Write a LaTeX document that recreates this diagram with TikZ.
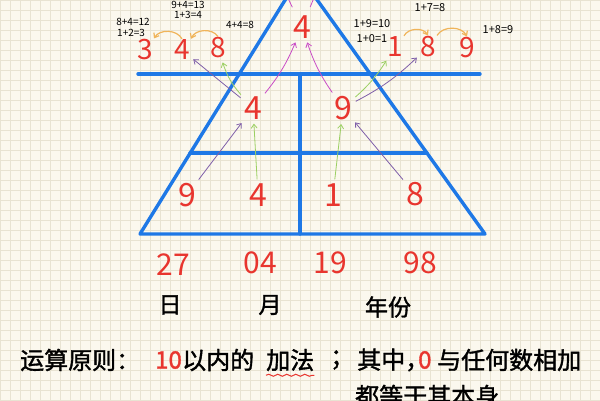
\documentclass[tikz,border=0pt]{standalone}
\usepackage{fontspec}
\newfontfamily\cjk{Noto Sans CJK SC}
\newfontfamily\cjkb[FakeBold=1.5]{Noto Sans CJK SC}
\usetikzlibrary{positioning}
\usetikzlibrary{arrows.meta}
\usetikzlibrary{decorations.pathmorphing}
\definecolor{paper}{HTML}{FBF8EE}
\definecolor{gridc}{HTML}{E8E3D2}
\definecolor{penblue}{HTML}{1E78E6}
\definecolor{penred}{HTML}{E8352E}
\definecolor{penpurple}{HTML}{7E5EA8}
\definecolor{penmag}{HTML}{C94CC6}
\definecolor{pengreen}{HTML}{9BCF62}
\definecolor{penorange}{HTML}{F0B45A}
\tikzset{
    numb/.style = {inner sep=1pt, text=penred, font=\cjk\fontsize{32}{32}\selectfont},
    numt/.style = {inner sep=1pt, text=penred, font=\cjk\fontsize{28}{28}\selectfont},
    numd/.style = {inner sep=1pt, text=penred, font=\cjk\fontsize{30}{30}\selectfont},
    lab/.style = {inner sep=1pt, text=black, font=\cjkb\fontsize{23}{23}\selectfont},
    note/.style = {inner sep=0.5pt, text=black, font=\cjk\fontsize{10}{10}\selectfont},
    rulet/.style = {inner sep=0pt, anchor=west, text=black, font=\cjkb\fontsize{24}{24}\selectfont},
    ruler/.style = {rulet, text=penred},
    lineb/.style = {line width=3.4pt, penblue, line join=round, line cap=round},
    gridln/.style = {line width=0.6pt, gridc},
    edgep/.style = {-{Straight Barb[length=4pt,width=6pt]}, line width=0.8pt, penpurple, shorten <=3pt, shorten >=3pt}, % purple
    edgem/.style = {-{Straight Barb[length=4pt,width=6pt]}, line width=0.8pt, penmag, shorten <=3pt, shorten >=3pt}, % magenta
    edgeg/.style = {-{Straight Barb[length=4pt,width=6pt]}, line width=0.8pt, pengreen, shorten <=3pt, shorten >=3pt}, % green
    edgeo/.style = {-{Straight Barb[length=4pt,width=6pt]}, line width=1.2pt, penorange}, % orange
    wavy/.style = {penred, line width=1pt, decorate, decoration={snake, amplitude=1pt, segment length=9pt}}
}
\begin{document}
\begin{tikzpicture}[x=1pt,y=1pt]
\useasboundingbox (0,0) rectangle (600,-400);
\clip (0,0) rectangle (600,-400);
\fill[paper] (0,0) rectangle (600,-400);
\draw[gridln] (0,0) grid[step=10pt] (600,-400);

% triangle
\coordinate (apex) at (300,24);
\coordinate (bl) at (140,-234);
\coordinate (br) at (485,-234);
\draw[lineb] (bl) -- (apex) -- (br) -- cycle;
\draw[lineb] (138,-74) -- (480,-74);
\draw[lineb] (300,-74) -- (300,-234);
\draw[lineb] (190,-153) -- (427,-153);

% digits in the triangle
\node[numb] at (187,-195) (b1) {9};
\node[numb] at (258,-195) (b2) {4};
\node[numb] at (333,-195) (b3) {1};
\node[numb] at (415,-194) (b4) {8};
\node[numb] at (253,-108) (m1) {4};
\node[numb] at (343,-108) (m2) {9};
\node[numb] at (302,-27)  (a4) {4};
\coordinate (up1) at (283,12);
\coordinate (up2) at (318,12);

% top rows
\node[numt] at (145,-50) (t1) {3};
\node[numt] at (182,-50) (t2) {4};
\node[numt] at (218,-48) (t3) {8};
\node[numt] at (395,-47) (r1) {1};
\node[numt] at (428,-47) (r2) {8};
\node[numt] at (467,-48) (r3) {9};

% sums
\node[note] at (133,-22) (n1) {8+4=12};
\node[note, below left=2pt and -30pt of n1] (n2) {1+2=3};
\node[note] at (188,-5) (n3) {9+4=13};
\node[note, below=1.5pt of n3] (n4) {1+3=4};
\node[note] at (240,-25) (n5) {4+4=8};
\node[note, font=\cjk\fontsize{11}{11}\selectfont] at (372,-24) (n6) {1+9=10};
\node[note, font=\cjk\fontsize{11}{11}\selectfont, below=5pt of n6] (n7) {1+0=1};
\node[note, font=\cjk\fontsize{11}{11}\selectfont] at (430,-8) (n8) {1+7=8};
\node[note, font=\cjk\fontsize{11}{11}\selectfont] at (498,-30) (n9) {1+8=9};

% date
\node[numd] at (173,-265) (d1) {27};
\node[numd] at (260,-263) (d2) {04};
\node[numd] at (330,-263) (d3) {19};
\node[numd] at (420,-263) (d4) {98};
\node[lab] at (170,-305) (l1) {日};
\node[lab] at (270,-305) (l2) {月};
\node[lab] at (388,-307) (l3) {年份};

% rule
\node[rulet] at (20,-360)  (ru1) {运算原则：};
\node[ruler] at (155,-360) (ru2) {10};
\node[rulet] at (182,-360) (ru3) {以内的};
\node[rulet] at (266,-360) (ru4) {加法};
\node[rulet] at (330,-360) (ru5) {；};
\node[rulet] at (357,-360) (ru6) {其中，};
\node[ruler] at (418,-360) (ru7) {0};
\node[rulet] at (437,-360) (ru8) {与任何数相加};
\node[rulet] at (355,-396) (ru9) {都等于其本身};
\draw[wavy] ([yshift=-4pt]ru4.south west) -- ([yshift=-4pt]ru4.south east);

% arrows
\draw[edgep] (b1) edge (m1);
\draw[edgeg] (b2) edge (m1);
\draw[edgeg] (b3) edge (m2);
\draw[edgep] (b4) edge (m2);
\draw[edgep] (m1) edge (t2);
\draw[edgeg] (m1) edge[bend left=12] (t3);
\draw[edgem] (m1) edge[bend right=8] (a4);
\draw[edgem] (m2) edge[bend left=8] (a4);
\draw[edgeg] (m2) edge[bend right=8] (r1);
\draw[edgep] (m2) edge[bend right=8] (r2);
\draw[edgem, -, shorten <=8pt] (a4) -- (up1);
\draw[edgem, -, shorten <=8pt] (a4) -- (up2);
\draw[edgeo] (t2.north) to[bend right=60] (t1.north east);
\draw[edgeo] (t3.north) to[bend right=60] (t2.north east);
\draw[edgeo] (r1.north east) to[bend left=60] (r2.north);
\draw[edgeo] (r2.north east) to[bend left=60] (r3.north);

\end{tikzpicture}
\end{document}
